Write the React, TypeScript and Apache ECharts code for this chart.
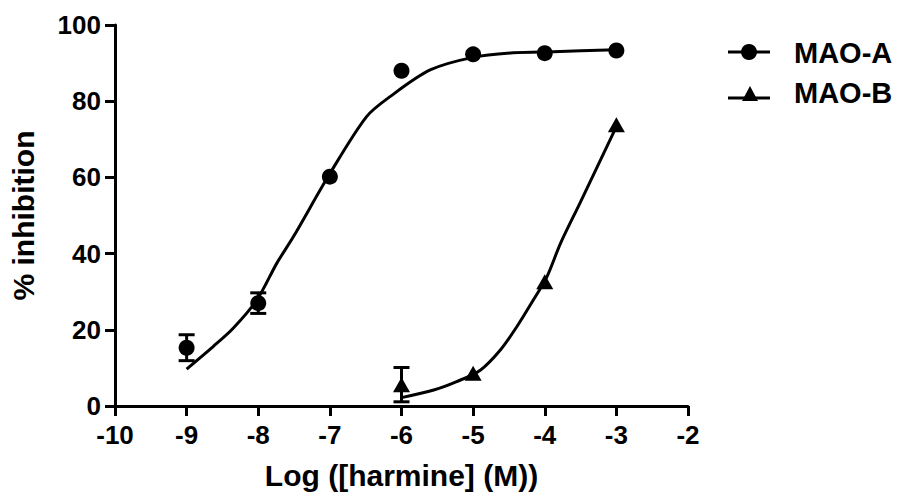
import React, { useEffect, useRef } from "react";
import * as echarts from "echarts";

// Measured points (log concentration, % inhibition)
const maoAConc = [-9, -8, -7, -6, -5, -4, -3];
const maoAValues = [15.3, 27.0, 60.2, 88.0, 92.3, 92.6, 93.3];
const maoAErrors = [3.4, 2.7, 0, 0, 0, 0, 0];

const maoBConc = [-6, -5, -4, -3];
const maoBValues = [5.6, 8.6, 32.6, 73.8];
const maoBErrors = [4.5, 0, 0, 0];

// Fitted curves
const maoACurveX = [-9, -8.63, -8.35, -8.02, -7.74, -7.51, -7, -6.49, -6.16, -5.6, -5, -4.44, -3.88, -3];
const maoACurveY = [9.7, 15.6, 20.4, 27.8, 37.5, 44.4, 61.0, 75.9, 81.2, 88.2, 91.5, 92.7, 93.0, 93.5];
const maoBCurveX = [-6, -5.55, -5.23, -4.9, -4.62, -4.39, -4.16, -3.97, -3.78, -3.51, -3];
const maoBCurveY = [2.2, 4.2, 6.4, 9.4, 14.7, 20.8, 27.8, 33.9, 42.7, 53.2, 73.3];

const seriesNames = ["MAO-A", "MAO-B"];
const xAxisTitle = "Log ([harmine] (M))";
const yAxisTitle = "% inhibition";

const FONT = "'Liberation Sans', Arial, Helvetica, sans-serif";

function pairs(xs: number[], ys: number[]) {
  return xs.map((x, i) => [x, ys[i]]);
}
function triples(xs: number[], ys: number[], es: number[]) {
  return xs.map((x, i) => [x, ys[i], es[i]]).filter((d) => d[2] > 0);
}

function errorBarRender(params: any, api: any) {
  const x = api.value(0);
  const y = api.value(1);
  const e = api.value(2);
  const top = api.coord([x, y + e]);
  const bot = api.coord([x, y - e]);
  const hw = 8;
  const style = { stroke: "#000", lineWidth: 3 };
  return {
    type: "group",
    children: [
      { type: "line", shape: { x1: top[0], y1: top[1], x2: bot[0], y2: bot[1] }, style },
      { type: "line", shape: { x1: top[0] - hw, y1: top[1], x2: top[0] + hw, y2: top[1] }, style },
      { type: "line", shape: { x1: bot[0] - hw, y1: bot[1], x2: bot[0] + hw, y2: bot[1] }, style },
    ],
  };
}

export default function App() {
  const ref = useRef<HTMLDivElement>(null);
  useEffect(() => {
    document.body.style.margin = "0";
    const chart = echarts.init(ref.current!, null, { renderer: "svg" });
    const axisLabel = { color: "#000", fontSize: 26, fontWeight: "bold", fontFamily: FONT };
    chart.setOption({
      animation: false,
      backgroundColor: "#fff",
      grid: { left: 115, right: 210, top: 25, bottom: 89 },
      xAxis: {
        type: "value",
        min: -10,
        max: -2,
        interval: 1,
        name: xAxisTitle,
        nameLocation: "middle",
        nameGap: 54,
        nameTextStyle: { color: "#000", fontSize: 30, fontWeight: "bold", fontFamily: FONT },
        axisLine: { show: true, onZero: false, lineStyle: { color: "#000", width: 3 } },
        axisTick: { show: true, length: 10, lineStyle: { color: "#000", width: 3 } },
        axisLabel: { ...axisLabel, margin: 16 },
        splitLine: { show: false },
      },
      yAxis: {
        type: "value",
        min: 0,
        max: 100,
        interval: 20,
        name: yAxisTitle,
        nameLocation: "middle",
        nameRotate: 90,
        nameGap: 77,
        nameTextStyle: { color: "#000", fontSize: 30, fontWeight: "bold", fontFamily: FONT },
        axisLine: { show: true, onZero: false, lineStyle: { color: "#000", width: 3 } },
        axisTick: { show: true, length: 10, lineStyle: { color: "#000", width: 3 } },
        axisLabel: { ...axisLabel, margin: 14 },
        splitLine: { show: false },
      },
      series: [
        {
          name: seriesNames[0] + " fit",
          type: "line",
          data: pairs(maoACurveX, maoACurveY),
          smooth: 0.3,
          showSymbol: false,
          lineStyle: { color: "#000", width: 3 },
          z: 2,
        },
        {
          name: seriesNames[1] + " fit",
          type: "line",
          data: pairs(maoBCurveX, maoBCurveY),
          smooth: 0.3,
          showSymbol: false,
          lineStyle: { color: "#000", width: 3 },
          z: 2,
        },
        {
          name: seriesNames[0] + " error",
          type: "custom",
          renderItem: errorBarRender,
          encode: { x: 0, y: 1 },
          data: triples(maoAConc, maoAValues, maoAErrors),
          z: 3,
        },
        {
          name: seriesNames[1] + " error",
          type: "custom",
          renderItem: errorBarRender,
          encode: { x: 0, y: 1 },
          data: triples(maoBConc, maoBValues, maoBErrors),
          z: 3,
        },
        {
          name: seriesNames[0],
          type: "scatter",
          data: pairs(maoAConc, maoAValues),
          symbol: "circle",
          symbolSize: 16,
          itemStyle: { color: "#000", opacity: 1 },
          z: 4,
        },
        {
          name: seriesNames[1],
          type: "scatter",
          data: pairs(maoBConc, maoBValues),
          symbol: "triangle",
          symbolSize: [17, 15],
          itemStyle: { color: "#000", opacity: 1 },
          z: 4,
        },
      ],
      graphic: [
        { type: "line", shape: { x1: 728, y1: 52, x2: 770, y2: 52 }, style: { stroke: "#000", lineWidth: 3 } },
        { type: "circle", shape: { cx: 749, cy: 52, r: 8 }, style: { fill: "#000" } },
        {
          type: "text",
          x: 794,
          y: 53,
          style: { text: seriesNames[0], fill: "#000", font: `bold 29px ${FONT}`, verticalAlign: "middle", align: "left" },
        },
        { type: "line", shape: { x1: 728, y1: 98, x2: 770, y2: 98 }, style: { stroke: "#000", lineWidth: 3 } },
        { type: "polygon", shape: { points: [[750, 86], [742, 101], [758, 101]] }, style: { fill: "#000" } },
        {
          type: "text",
          x: 794,
          y: 93,
          style: { text: seriesNames[1], fill: "#000", font: `bold 29px ${FONT}`, verticalAlign: "middle", align: "left" },
        },
      ],
    });
    return () => chart.dispose();
  }, []);
  return <div ref={ref} style={{ width: 898, height: 495 }} />;
}
